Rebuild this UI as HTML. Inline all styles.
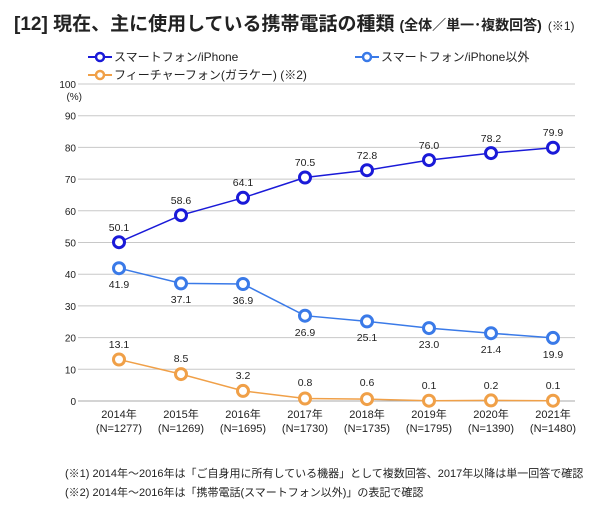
<!DOCTYPE html>
<html><head><meta charset="utf-8"><style>
body{margin:0;background:#fff;width:600px;height:507px;overflow:hidden;font-family:"Liberation Sans","Noto Sans CJK JP",sans-serif;}
</style></head><body>
<svg width="600" height="507" xmlns="http://www.w3.org/2000/svg" font-family="Liberation Sans, Noto Sans CJK JP, sans-serif">
<text x="14" y="30" font-size="19" font-weight="bold" fill="#222">[12] 現在、主に使用している携帯電話の種類<tspan font-size="14" dx="5">(全体／単一･複数回答)</tspan><tspan font-size="12" dx="6" font-weight="normal">(※1)</tspan></text>
<g font-size="12" fill="#222">
<line x1="88" y1="57" x2="112" y2="57" stroke="#1a1ad8" stroke-width="2"/><circle cx="100" cy="57" r="4" fill="#fff" stroke="#1a1ad8" stroke-width="2.5"/><text x="114" y="61">スマートフォン/iPhone</text>
<line x1="355" y1="57" x2="379" y2="57" stroke="#3a7ae8" stroke-width="2"/><circle cx="367" cy="57" r="4" fill="#fff" stroke="#3a7ae8" stroke-width="2.5"/><text x="381" y="61">スマートフォン/iPhone以外</text>
<line x1="88" y1="75" x2="112" y2="75" stroke="#f0a048" stroke-width="2"/><circle cx="100" cy="75" r="4" fill="#fff" stroke="#f0a048" stroke-width="2.5"/><text x="114" y="79">フィーチャーフォン(ガラケー) (※2)</text>
</g>
<g stroke="#c8c8c8" stroke-width="1">
<line x1="78" x2="575" y1="84" y2="84"/><line x1="78" x2="575" y1="115.7" y2="115.7"/><line x1="78" x2="575" y1="147.4" y2="147.4"/><line x1="78" x2="575" y1="179.1" y2="179.1"/><line x1="78" x2="575" y1="210.8" y2="210.8"/><line x1="78" x2="575" y1="242.5" y2="242.5"/><line x1="78" x2="575" y1="274.2" y2="274.2"/><line x1="78" x2="575" y1="305.9" y2="305.9"/><line x1="78" x2="575" y1="337.6" y2="337.6"/><line x1="78" x2="575" y1="369.3" y2="369.3"/><line x1="78" x2="575" y1="401" y2="401" stroke="#aaa"/>
</g>
<g font-size="10" fill="#222" text-anchor="end">
<text x="76" y="88">100</text><text x="82" y="100">(%)</text>
<text x="76" y="119.7">90</text><text x="76" y="151.4">80</text><text x="76" y="183.1">70</text><text x="76" y="214.8">60</text><text x="76" y="246.5">50</text><text x="76" y="278.2">40</text><text x="76" y="309.9">30</text><text x="76" y="341.6">20</text><text x="76" y="373.3">10</text><text x="76" y="405">0</text>
</g>
<g font-size="11" fill="#222" text-anchor="middle">
<text x="119" y="418">2014年</text><text x="119" y="432">(N=1277)</text>
<text x="181" y="418">2015年</text><text x="181" y="432">(N=1269)</text>
<text x="243" y="418">2016年</text><text x="243" y="432">(N=1695)</text>
<text x="305" y="418">2017年</text><text x="305" y="432">(N=1730)</text>
<text x="367" y="418">2018年</text><text x="367" y="432">(N=1735)</text>
<text x="429" y="418">2019年</text><text x="429" y="432">(N=1795)</text>
<text x="491" y="418">2020年</text><text x="491" y="432">(N=1390)</text>
<text x="553" y="418">2021年</text><text x="553" y="432">(N=1480)</text>
</g>
<polyline fill="none" stroke="#1a1ad8" stroke-width="1.5" points="119,242.2 181,215.2 243,197.8 305,177.5 367,170.2 429,160.1 491,153.1 553,147.7"/>
<polyline fill="none" stroke="#3a7ae8" stroke-width="1.5" points="119,268.2 181,283.4 243,284 305,315.7 367,321.4 429,328.1 491,333.2 553,337.9"/>
<polyline fill="none" stroke="#f0a048" stroke-width="1.5" points="119,359.5 181,374.1 243,390.9 305,398.5 367,399.1 429,400.7 491,400.4 553,400.7"/>
<g fill="#fff" stroke-width="3">
<g stroke="#1a1ad8"><circle cx="119" cy="242.2" r="5.5"/><circle cx="181" cy="215.2" r="5.5"/><circle cx="243" cy="197.8" r="5.5"/><circle cx="305" cy="177.5" r="5.5"/><circle cx="367" cy="170.2" r="5.5"/><circle cx="429" cy="160.1" r="5.5"/><circle cx="491" cy="153.1" r="5.5"/><circle cx="553" cy="147.7" r="5.5"/></g>
<g stroke="#3a7ae8"><circle cx="119" cy="268.2" r="5.5"/><circle cx="181" cy="283.4" r="5.5"/><circle cx="243" cy="284" r="5.5"/><circle cx="305" cy="315.7" r="5.5"/><circle cx="367" cy="321.4" r="5.5"/><circle cx="429" cy="328.1" r="5.5"/><circle cx="491" cy="333.2" r="5.5"/><circle cx="553" cy="337.9" r="5.5"/></g>
<g stroke="#f0a048"><circle cx="119" cy="359.5" r="5.5"/><circle cx="181" cy="374.1" r="5.5"/><circle cx="243" cy="390.9" r="5.5"/><circle cx="305" cy="398.5" r="5.5"/><circle cx="367" cy="399.1" r="5.5"/><circle cx="429" cy="400.7" r="5.5"/><circle cx="491" cy="400.4" r="5.5"/><circle cx="553" cy="400.7" r="5.5"/></g>
</g>
<g font-size="10.5" fill="#222" text-anchor="middle">
<text x="119" y="231">50.1</text><text x="181" y="204">58.6</text><text x="243" y="186">64.1</text><text x="305" y="166">70.5</text><text x="367" y="159">72.8</text><text x="429" y="149">76.0</text><text x="491" y="142">78.2</text><text x="553" y="136">79.9</text>
<text x="119" y="288">41.9</text><text x="181" y="303">37.1</text><text x="243" y="304">36.9</text><text x="305" y="336">26.9</text><text x="367" y="341">25.1</text><text x="429" y="348">23.0</text><text x="491" y="353">21.4</text><text x="553" y="358">19.9</text>
<text x="119" y="348">13.1</text><text x="181" y="362">8.5</text><text x="243" y="379">3.2</text><text x="305" y="386">0.8</text><text x="367" y="386">0.6</text><text x="429" y="389">0.1</text><text x="491" y="389">0.2</text><text x="553" y="389">0.1</text>
</g>
<g font-size="11" fill="#222">
<text x="65" y="477">(※1) 2014年～2016年は「ご自身用に所有している機器」として複数回答、2017年以降は単一回答で確認</text>
<text x="65" y="496">(※2) 2014年～2016年は「携帯電話(スマートフォン以外)」の表記で確認</text>
</g>
</svg>
</body></html>
